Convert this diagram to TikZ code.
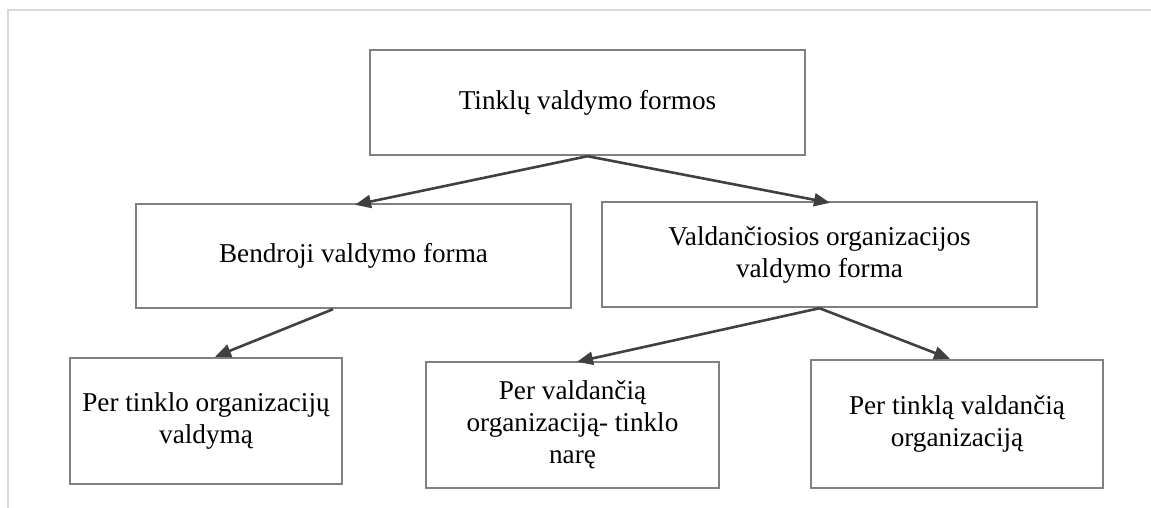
\documentclass[tikz,border=0pt]{standalone}
\usepackage{fontspec}
\setmainfont{Liberation Serif}
\usetikzlibrary{arrows.meta}
\definecolor{boxline}{HTML}{808080}
\definecolor{arrowline}{HTML}{404040}
\definecolor{frameline}{HTML}{D9D9D9}
\tikzset{
  formbox/.style={draw=boxline, line width=2.4pt, rectangle, align=center,
    inner sep=0pt, font=\fontsize{27.2}{32}\selectfont},
  link/.style={draw=arrowline, line width=2.6pt,
    -{Triangle[length=16pt,width=13pt]}},
}
\begin{document}
\begin{tikzpicture}[x=1pt,y=-1pt]
  \useasboundingbox (0,0) rectangle (1151,508);
  % page frame
  \draw[frameline, line width=1.8pt] (8,510) -- (8,10) -- (1152,10);

  % boxes
  \node[formbox, minimum width=435pt, minimum height=105pt] (top) at (587.5,102.5) {Tinklų valdymo formos};
  \node[formbox, minimum width=435pt, minimum height=104pt] (bend) at (353.5,256) {Bendroji valdymo forma};
  \node[formbox, minimum width=435pt, minimum height=105pt] (vald) at (819.5,254.5) {Valdančiosios organizacijos\\valdymo forma};
  \node[formbox, minimum width=272pt, minimum height=126pt] (pt) at (206,421) {Per tinklo organizacijų\\valdymą};
  \node[formbox, minimum width=293pt, minimum height=126pt] (pv) at (572.5,425) {Per valdančią\\organizaciją- tinklo\\narę};
  \node[formbox, minimum width=292pt, minimum height=128pt] (ptv) at (957,424) {Per tinklą valdančią\\organizaciją};

  % connectors
  \draw[link] (top.south) -- ([xshift=1.5pt,yshift=-2pt]bend.north);
  \draw[link] (top.south) -- ([xshift=10.5pt,yshift=-2pt]vald.north);
  \draw[link] ([xshift=-20.5pt]bend.south) -- ([xshift=9pt]pt.north);
  \draw[link] (vald.south) -- ([xshift=4.5pt,yshift=-1pt]pv.north);
  \draw[link] (vald.south) -- ([xshift=-7pt]ptv.north);
\end{tikzpicture}
\end{document}
